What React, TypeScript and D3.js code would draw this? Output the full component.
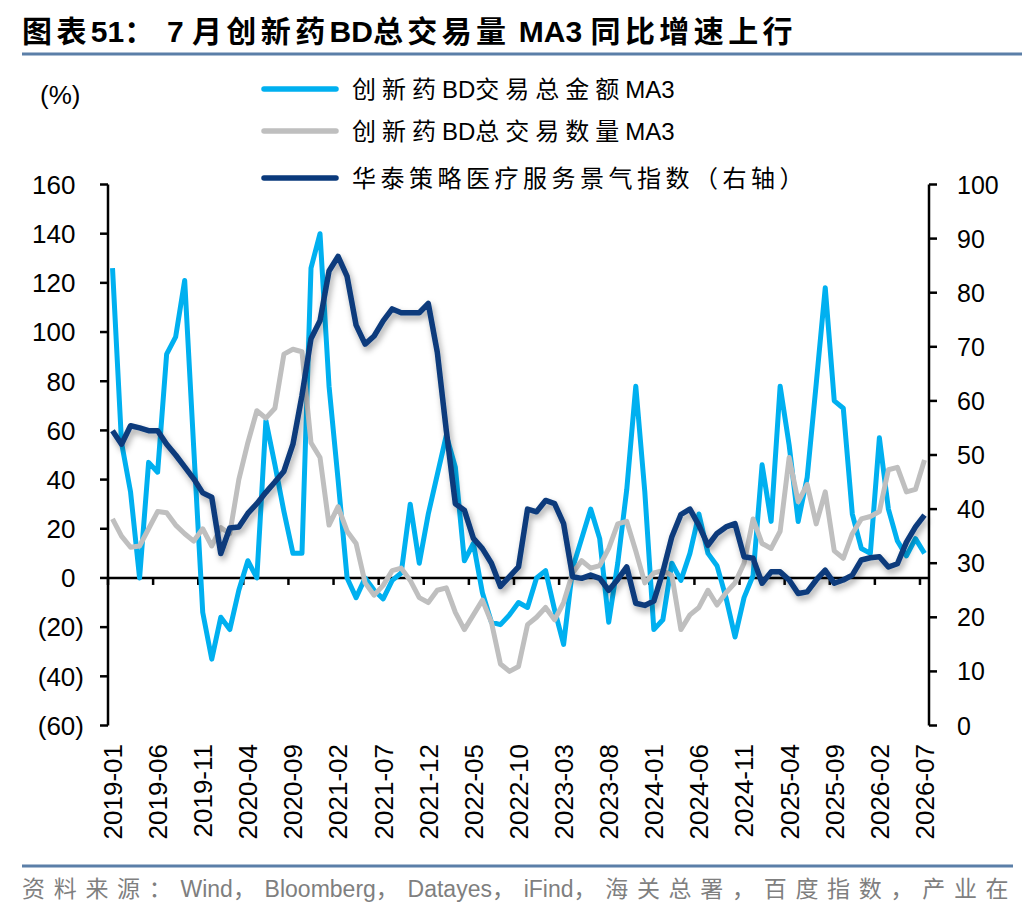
import * as d3 from "d3";

// monthly categories 2019-01 .. 2026-07
const months: string[] = d3.range(91).map((i) => {
  const y = 2019 + Math.floor(i / 12);
  const m = (i % 12) + 1;
  return `${y}-${String(m).padStart(2, "0")}`;
});

const tickLabels = [
  "2019-01", "2019-06", "2019-11", "2020-04", "2020-09", "2021-02", "2021-07",
  "2021-12", "2022-05", "2022-10", "2023-03", "2023-08", "2024-01", "2024-06",
  "2024-11", "2025-04", "2025-09", "2026-02", "2026-07",
];

// 创新药BD交易总金额MA3 (%)
const amountMA3 = [
  126, 55, 35, 0, 47, 43, 91, 98, 121, 53,
  -14, -33, -16, -21, -5, 7, 0, 64, 46, 27,
  10, 10, 126, 140, 78, 40, 0, -8, 0, -5,
  -8.5, -1, 2, 30, 6, 26, 42, 58, 45, 7,
  14, -6, -18, -19, -15, -10, -12, 0, 3, -13,
  -27, 4, 16, 28, 16, -18, 6, 36, 78, 35,
  -21, -17, 6, -1, 10, 26, 10, 5, -8, -24,
  -8, 1, 46, 23, 78, 54, 23, 41, 79, 118,
  72, 69, 26, 12, 10, 57, 28, 15, 9, 16,
  10,
];

// 创新药BD总交易数量MA3 (%)
const countMA3 = [
  24, 17, 12.5, 13, 20, 27, 26.5, 21.5, 18, 15,
  20, 13, 20.5, 18, 40, 55, 68, 65, 69, 91,
  93, 92, 55, 49, 21.5, 29, 19, 14, -2, -7,
  -3, 3, 4, -1, -8, -10, -5, -4, -14, -21,
  -15, -9, -18, -35, -38, -36, -19, -16, -12, -17,
  -10, 2, 7, 4, 5, 12, 22, 23, 11, -2,
  2, 3, 1, -21, -15, -12, -5, -11, -6, -2,
  6, 24, 14, 12, 19, 49, 31, 38, 22, 35,
  11, 8, 18, 24, 25, 27, 44, 45, 35, 36,
  48,
];

// 华泰策略医疗服务景气指数 (right axis)
const sentiment = [
  54.5, 52, 55.4, 55, 54.5, 54.5, 52, 50, 47.8, 45.6,
  43, 42.2, 31.8, 36.5, 36.7, 39.2, 41, 43.1, 45, 47,
  52, 61, 71.5, 74.8, 84, 86.7, 83, 74, 70.5, 72,
  74.8, 77, 76.3, 76.3, 76.3, 78, 69, 54.5, 41, 39.8,
  34.6, 32.7, 30, 25.7, 27.5, 29.3, 40, 39.5, 41.6, 41,
  37.3, 27.5, 27.2, 27.8, 27.2, 25, 27, 29.3, 22.6, 22.2,
  23, 28.4, 34.9, 39, 40, 37, 33.3, 35.5, 36.7, 37.3,
  31.2, 30.9, 26.3, 28.4, 28.4, 26.9, 24.4, 24.7, 26.9, 28.7,
  26.3, 26.9, 27.8, 30.6, 31, 31.2, 29.3, 29.9, 33.9, 36.7,
  38.9,
];

const leftTicks = [160, 140, 120, 100, 80, 60, 40, 20, 0, -20, -40, -60];
const rightTicks = [100, 90, 80, 70, 60, 50, 40, 30, 20, 10, 0];

const legendItems = [
  { label: "创新药BD交易总金额MA3", color: "#00b0f0", spacing: 6 },
  { label: "创新药BD总交易数量MA3", color: "#bfbfbf", spacing: 6 },
  { label: "华泰策略医疗服务景气指数（右轴）", color: "#0a3a7c", spacing: 4.5 },
];

const W = 1036;
const H = 916;
const left = 108;
const right = 929;
const top = 184.5;
const bottom = 725.5;

const latin = "'Liberation Sans', Arial, sans-serif";
const cjk = "'Liberation Sans', 'Noto Sans CJK SC', sans-serif";

const fmtLeft = (v: number) => (v < 0 ? `(${Math.abs(v)})` : `${v}`);

// split a label into CJK / latin runs so only the CJK glyphs get spaced out
const splitRuns = (s: string) => {
  const out: { text: string; wide: boolean }[] = [];
  for (const ch of s) {
    const wide = /[\u2e80-\u9fff\u3000-\u303f\uff00-\uffef]/.test(ch);
    const last = out[out.length - 1];
    if (last && last.wide === wide) last.text += ch;
    else out.push({ text: ch, wide });
  }
  return out;
};

const Spaced = ({ s, sp }: { s: string; sp: number }) => (
  <>
    {splitRuns(s).map((r, i) => (
      <tspan key={i} letterSpacing={r.wide ? sp : 0}>
        {r.text}
      </tspan>
    ))}
  </>
);

const App = () => {
  const x = d3.scalePoint<string>().domain(months).range([left, right]).padding(0.5);
  const step = x.step();
  const yL = d3.scaleLinear().domain([-60, 160]).range([bottom, top]);
  const yR = d3.scaleLinear().domain([0, 100]).range([bottom, top]);

  const lineL = d3
    .line<number>()
    .x((_, i) => x(months[i]) as number)
    .y((d) => yL(d));
  const lineR = d3
    .line<number>()
    .x((_, i) => x(months[i]) as number)
    .y((d) => yR(d));

  const zeroY = yL(0);

  return (
    <svg
      width={W}
      height={H}
      style={{ position: "absolute", left: 0, top: 0, background: "#fff" }}
    >
      <defs>
        <filter id="shadow" x="-5%" y="-5%" width="110%" height="120%">
          <feDropShadow dx="2" dy="4" stdDeviation="3" floodColor="#000" floodOpacity="0.35" />
        </filter>
      </defs>

      {/* title */}
      <text x={22} y={42} fontFamily={cjk} fontWeight="bold" fontSize={30} fill="#000">
        <Spaced s="图表51： 7 月创新药BD总交易量 MA3 同比增速上行" sp={4.4} />
      </text>
      <line x1={22} x2={1022} y1={54} y2={54} stroke="#5b7fa8" strokeWidth={3} />

      {/* unit */}
      <text x={40} y={104} fontFamily={latin} fontSize={26}>
        (%)
      </text>

      {/* legend */}
      {legendItems.map((d, i) => {
        const ly = [89, 131, 178][i];
        return (
          <g key={d.label}>
            <line
              x1={264}
              x2={336}
              y1={ly}
              y2={ly}
              stroke={d.color}
              strokeWidth={5.5}
              strokeLinecap="round"
            />
            <text x={352} y={ly + 9} fontFamily={cjk} fontSize={24}>
              <Spaced s={d.label} sp={d.spacing} />
            </text>
          </g>
        );
      })}

      {/* x axis at zero */}
      <line x1={left} x2={right} y1={zeroY} y2={zeroY} stroke="#000" strokeWidth={2.5} />
      {tickLabels.map((m) => {
        const tx = (x(m) as number) - step / 2;
        return (
          <line key={m} x1={tx} x2={tx} y1={zeroY} y2={zeroY + 7} stroke="#000" strokeWidth={2.5} />
        );
      })}

      {/* left axis */}
      <line x1={left} x2={left} y1={top} y2={bottom} stroke="#000" strokeWidth={2.5} />
      {leftTicks.map((v) => (
        <g key={v}>
          <line x1={left - 8} x2={left} y1={yL(v)} y2={yL(v)} stroke="#000" strokeWidth={2.5} />
          <text
            x={v < 0 ? 84 : 75.5}
            y={yL(v)}
            dy="0.36em"
            textAnchor="end"
            fontFamily={latin}
            fontSize={26}
          >
            {fmtLeft(v)}
          </text>
        </g>
      ))}

      {/* right axis */}
      <line x1={right} x2={right} y1={top} y2={bottom} stroke="#000" strokeWidth={2.5} />
      {rightTicks.map((v) => (
        <g key={v}>
          <line x1={right} x2={right + 8} y1={yR(v)} y2={yR(v)} stroke="#000" strokeWidth={2.5} />
          <text x={957} y={yR(v)} dy="0.36em" fontFamily={latin} fontSize={25}>
            {v}
          </text>
        </g>
      ))}

      {/* x labels */}
      {tickLabels.map((m) => (
        <text
          key={m}
          transform={`translate(${x(m)},744) rotate(-90)`}
          dy="0.36em"
          textAnchor="end"
          fontFamily={latin}
          fontSize={26}
        >
          {m}
        </text>
      ))}

      {/* series */}
      <path
        d={lineL(amountMA3) as string}
        fill="none"
        stroke="#00b0f0"
        strokeWidth={5}
        strokeLinejoin="round"
      />
      <path
        d={lineL(countMA3) as string}
        fill="none"
        stroke="#bfbfbf"
        strokeWidth={5}
        strokeLinejoin="round"
      />
      <path
        d={lineR(sentiment) as string}
        fill="none"
        stroke="#0a3a7c"
        strokeWidth={5.5}
        strokeLinejoin="round"
        filter="url(#shadow)"
      />

      {/* source */}
      <line x1={22} x2={1013} y1={866} y2={866} stroke="#5b7fa8" strokeWidth={3} />
      <text x={22} y={897} fontFamily={cjk} fontSize={23} fill="#7f7f7f">
        <Spaced s="资料来源：Wind，Bloomberg，Datayes，iFind，海关总署，百度指数，产业在" sp={8.7} />
      </text>
    </svg>
  );
};

export default App;
